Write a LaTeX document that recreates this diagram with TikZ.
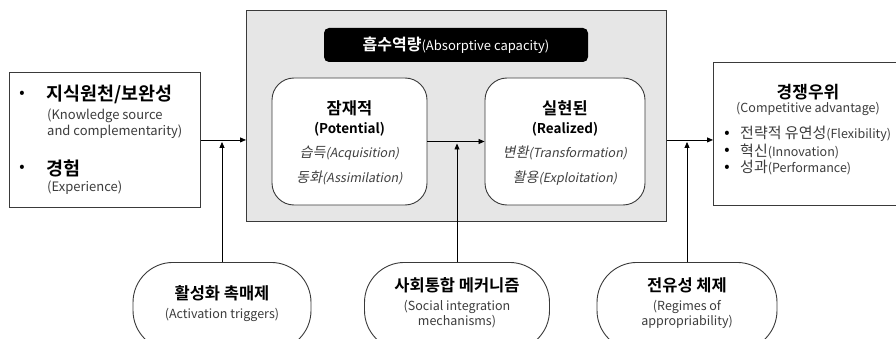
\documentclass[tikz,border=0pt]{standalone}
\usepackage{fontspec}
\setmainfont{Noto Sans CJK KR}[BoldFont={Noto Sans CJK KR Bold},ItalicFont={Noto Sans CJK KR},ItalicFeatures={FakeSlant=0.2},BoldItalicFont={Noto Sans CJK KR Bold},BoldItalicFeatures={FakeSlant=0.2}]
\usetikzlibrary{arrows.meta}
\definecolor{subc}{HTML}{3C3C3C}
\definecolor{italc}{HTML}{404040}
\definecolor{bord}{HTML}{3A3A3A}
\definecolor{grayfill}{HTML}{E6E6E6}
\newcommand{\krit}[1]{{\fontsize{14}{15}\selectfont #1}}
\tikzset{
 box/.style={draw=bord, line width=0.9pt, fill=white, inner sep=0pt},
 arr/.style={-{Triangle[length=6pt,width=5pt]}, line width=0.8pt, black},
 ttl/.style={font=\fontsize{16.5}{18}\selectfont\bfseries, inner sep=0pt},
 bigttl/.style={font=\fontsize{18.5}{20}\selectfont\bfseries, inner sep=0pt},
 subt/.style={font=\fontsize{12.5}{14}\selectfont, text=subc, inner sep=0pt},
 lsub/.style={font=\fontsize{13}{15}\selectfont, text=subc, inner sep=0pt},
 midt/.style={font=\fontsize{13.5}{15}\selectfont\bfseries, inner sep=0pt},
 itl/.style={font=\fontsize{12.5}{15}\selectfont\itshape, text=italc, inner sep=0pt},
 bul/.style={font=\fontsize{14}{15}\selectfont\bfseries, inner sep=0pt},
 kr/.style={font=\fontsize{15}{17}\selectfont, text=subc, inner sep=0pt},
}
\begin{document}
\begin{tikzpicture}[x=1pt,y=-1pt]
\useasboundingbox (0,0) rectangle (896,339);
\clip (0,0) rectangle (896,339);

% left box
\node[box, minimum width=191pt, minimum height=135pt, anchor=north west] (src) at (9,72) {};
\node[bul] (b1) at (22,94) {•};
\node[bigttl, anchor=west] (t1) at (46,94) {지식원천/보완성};
\node[lsub, anchor=west] (s1a) at (47,116) {(Knowledge source};
\node[lsub, anchor=west] (s1b) at (47,132) {and complementarity)};
\node[bul] (b2) at (22,168) {•};
\node[bigttl, anchor=west] (t2) at (46,168) {경험};
\node[lsub, anchor=west] (s2) at (47,188) {(Experience)};

% absorptive capacity
\node[draw=bord, fill=grayfill, line width=0.9pt, minimum width=420pt, minimum height=211pt, anchor=north west, inner sep=0pt] (acap) at (246,10) {};
\node[fill=black, rounded corners=5pt, minimum width=264pt, minimum height=34pt, inner sep=0pt, text=white] (atitle) at (456,45) {{\fontsize{16}{17}\selectfont\bfseries 흡수역량}{\fontsize{13}{15}\selectfont(Absorptive capacity)}};

\node[box, rounded corners=22pt, minimum width=155pt, minimum height=127pt] (pot) at (349.5,141.5) {};
\node[ttl] (pt1) at (349.5,108) {잠재적};
\node[midt] (pt2) at (349.5,129) {(Potential)};
\node[itl] (pt3) at (349.5,153) {\krit{습득}(Acquisition)};
\node[itl] (pt4) at (349.5,178) {\krit{동화}(Assimilation)};

\node[box, rounded corners=22pt, minimum width=160pt, minimum height=127pt] (real) at (565,141.5) {};
\node[ttl] (rt1) at (565,108) {실현된};
\node[midt] (rt2) at (565,129) {(Realized)};
\node[itl] (rt3) at (565,153) {\krit{변환}(Transformation)};
\node[itl] (rt4) at (565,178) {\krit{활용}(Exploitation)};

% competitive advantage
\node[box, minimum width=200pt, minimum height=143pt, anchor=north west] (comp) at (713,62) {};
\node[font=\fontsize{17}{18}\selectfont\bfseries, inner sep=0pt] (ct1) at (808,92) {경쟁우위};
\node[subt] (ct2) at (808,109) {(Competitive advantage)};
\node[bul] (cb1) at (727,134) {•};
\node[kr, anchor=west] (cc1) at (740,134) {전략적 유연성{\fontsize{12.5}{14}\selectfont(Flexibility)}};
\node[bul] (cb2) at (727,151) {•};
\node[kr, anchor=west] (cc2) at (740,151) {혁신{\fontsize{12.5}{14}\selectfont(Innovation)}};
\node[bul] (cb3) at (727,168) {•};
\node[kr, anchor=west] (cc3) at (740,168) {성과{\fontsize{12.5}{14}\selectfont(Performance)}};

% bottom ovals
\node[box, rounded corners=40pt, minimum width=178pt, minimum height=88pt, anchor=north] (o1) at (222,262) {};
\node[ttl] (o1a) at (222,293) {활성화 촉매제};
\node[subt] (o1b) at (222,315) {(Activation triggers)};

\node[box, rounded corners=40pt, minimum width=185pt, minimum height=88pt, anchor=north] (o2) at (457,262) {};
\node[ttl] (o2a) at (457,285) {사회통합 메커니즘};
\node[subt] (o2b) at (457,307) {(Social integration};
\node[subt] (o2c) at (457,322) {mechanisms)};

\node[box, rounded corners=40pt, minimum width=180pt, minimum height=88pt, anchor=north] (o3) at (687,262) {};
\node[ttl] (o3a) at (687,285) {전유성 체제};
\node[subt] (o3b) at (687,307) {(Regimes of};
\node[subt] (o3c) at (687,322) {appropriability)};

% connectors
\draw[arr] (src.east) -- (src.east -| acap.west);
\draw[arr] (pot.east) -- (real.west);
\draw[arr] (acap.east |- src.east) -- (comp.west |- src.east);
\draw[arr] (o1.north) -- ([yshift=-2pt]o1.north |- src.east);
\draw[arr] (o2.north) -- ([yshift=-2pt]o2.north |- pot.east);
\draw[arr] (o3.north) -- ([yshift=-2pt]o3.north |- src.east);
\end{tikzpicture}
\end{document}
